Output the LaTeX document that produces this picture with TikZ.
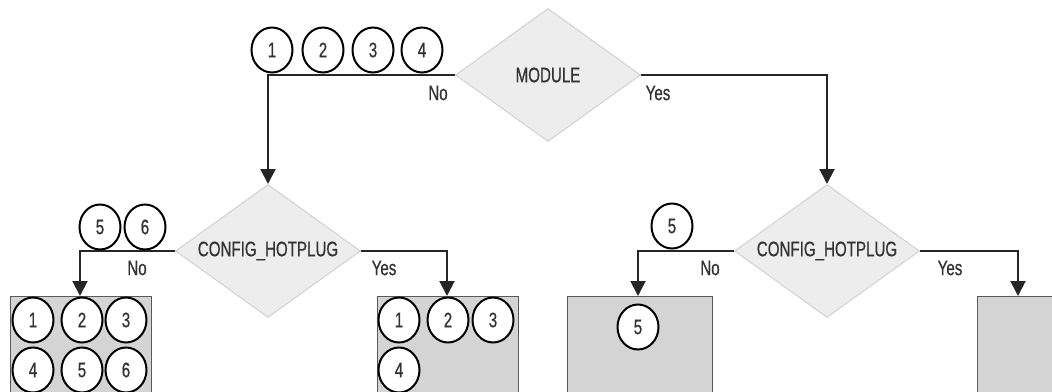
\documentclass[tikz,border=0pt]{standalone}
\usepackage{fontspec}
\setmainfont{Liberation Sans}[FakeStretch=0.72,FakeBold=0.6]
\usetikzlibrary{shapes.geometric,arrows.meta}
\begin{document}
\begin{tikzpicture}[x=1pt,y=-1pt,
  font=\fontsize{21}{23}\selectfont,
  num/.style={ellipse,draw=black,line width=2pt,fill=white,minimum width=41pt,minimum height=45pt,inner sep=0pt,text=black!80},
  dec/.style={diamond,aspect=1.39,draw=black!18,line width=1pt,fill=black!7,minimum width=185pt,minimum height=133pt,inner sep=0pt,text=black!80},
  res/.style={draw=black!65,line width=1pt,fill=black!17},
  conn/.style={line width=2pt,draw=black!85,-{Triangle[length=15pt,width=15pt]}},
  lbl/.style={text=black!80,inner sep=0pt}]
\useasboundingbox (0,0) rectangle (1052,391);
\clip (0,0) rectangle (1052,391);
% decisions
\node[dec] (mod) at (548,75) {MODULE};
\node[dec] (hpl) at (268,251) {CONFIG\_HOTPLUG};
\node[dec] (hpr) at (827,251) {CONFIG\_HOTPLUG};
% result boxes
\draw[res] (10,296) rectangle (151,400);
\draw[res] (377,296) rectangle (518,400);
\draw[res] (567,296) rectangle (712,400);
\draw[res] (977,296) rectangle (1060,400);
\coordinate (b1) at (80,296);
\coordinate (b2) at (447,296);
\coordinate (b3) at (638,296);
\coordinate (b4) at (1018,296);
% connectors
\draw[conn] (mod.west) -| (hpl.north);
\draw[conn] (mod.east) -| (hpr.north);
\draw[conn] (hpl.west) -| (b1);
\draw[conn] (hpl.east) -| (b2);
\draw[conn] (hpr.west) -| (b3);
\draw[conn] (hpr.east) -| (b4);
% labels
\node[lbl] (l1) at (438,93) {No};
\node[lbl] (l2) at (658,93) {Yes};
\node[lbl] (l3) at (137,268) {No};
\node[lbl] (l4) at (384,268) {Yes};
\node[lbl] (l5) at (710,268) {No};
\node[lbl] (l6) at (950,268) {Yes};
% numbered circles on branches
\node[num] (t1) at (272,50) {1};
\node[num] (t2) at (323,50) {2};
\node[num] (t3) at (373,50) {3};
\node[num] (t4) at (422,50) {4};
\node[num] (m5) at (100,227) {5};
\node[num] (m6) at (145,227) {6};
\node[num] (r5) at (672,226) {5};
% circles in boxes
\node[num] (a1) at (33,320) {1};
\node[num] (a2) at (82,320) {2};
\node[num] (a3) at (126,320) {3};
\node[num] (a4) at (33,370) {4};
\node[num] (a5) at (82,370) {5};
\node[num] (a6) at (126,370) {6};
\node[num] (c1) at (399,320) {1};
\node[num] (c2) at (448,320) {2};
\node[num] (c3) at (493,320) {3};
\node[num] (c4) at (399,370) {4};
\node[num] (d5) at (638,327) {5};
\end{tikzpicture}
\end{document}
